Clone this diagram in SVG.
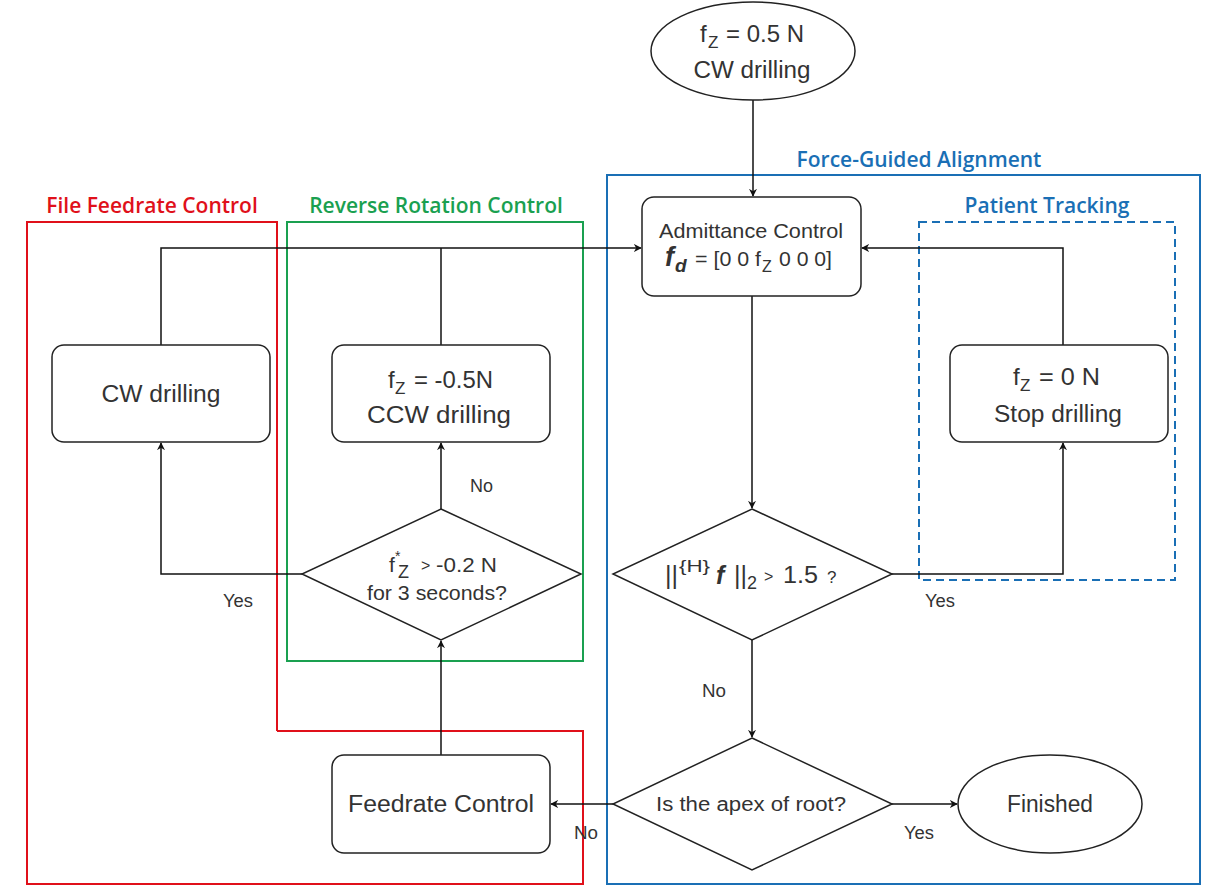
<svg xmlns="http://www.w3.org/2000/svg" width="1226" height="886" viewBox="0 0 1226 886">
<style>
.n{fill:#fff;stroke:#222;stroke-width:1.5}
.t{font-family:'Liberation Sans',Arial,sans-serif;fill:#333;text-anchor:middle}
.s{font-family:'Liberation Sans',Arial,sans-serif;fill:#333;text-anchor:start}
.c{fill:none;stroke:#111;stroke-width:1.5}
.lb{font-family:'Liberation Sans',Arial,sans-serif;fill:#333;font-size:18px;text-anchor:start}
.g{font-family:'Open Sans','Noto Sans',sans-serif;font-weight:600;font-size:21px;text-anchor:middle}
</style>
<defs>
<marker id="a" viewBox="0 0 10 10" refX="9" refY="5" markerWidth="8" markerHeight="8" markerUnits="userSpaceOnUse" orient="auto"><path d="M0,0 L10,5 L0,10 L3,5 z" fill="#111"/></marker>
</defs>
<rect width="1226" height="886" fill="#fff"/>
<g id="groups">
<rect x="607" y="175" width="593" height="709" fill="none" stroke="#1a6fb5" stroke-width="2"/>
<text class="g" x="919" y="167" fill="#1a6fb5">Force-Guided Alignment</text>
<polyline points="277,731 277,222 27,222 27,884 583,884 583,731 277,731" fill="none" stroke="#e0101a" stroke-width="2"/>
<text class="g" x="152" y="213" fill="#e0101a">File Feedrate Control</text>
<rect x="287" y="222" width="296" height="439" fill="none" stroke="#1aa050" stroke-width="2"/>
<text class="g" x="436" y="213" fill="#1aa050">Reverse Rotation Control</text>
<rect x="919" y="222" width="256" height="358" fill="none" stroke="#1a6fb5" stroke-width="2" stroke-dasharray="8,5"/>
<text class="g" x="1047" y="213" fill="#1a6fb5">Patient Tracking</text>
</g>
<g id="connectors">
<path class="c" d="M753,100 V196" marker-end="url(#a)"/>
<path class="c" d="M752,296 V508" marker-end="url(#a)"/>
<path class="c" d="M892,574 H1063 V443" marker-end="url(#a)"/>
<path class="c" d="M1063,345 V248 H862" marker-end="url(#a)"/>
<path class="c" d="M752,640 V737" marker-end="url(#a)"/>
<path class="c" d="M892,804 H957" marker-end="url(#a)"/>
<path class="c" d="M613,804 H551" marker-end="url(#a)"/>
<path class="c" d="M441,755 V641" marker-end="url(#a)"/>
<path class="c" d="M441,509 V443" marker-end="url(#a)"/>
<path class="c" d="M302,574 H161 V443" marker-end="url(#a)"/>
<path class="c" d="M161,345 V248 H641" marker-end="url(#a)"/>
<path class="c" d="M441,345 V248"/>
<text class="lb" x="925" y="607" textLength="30" lengthAdjust="spacingAndGlyphs">Yes</text>
<text class="lb" x="702" y="697" textLength="24" lengthAdjust="spacingAndGlyphs">No</text>
<text class="lb" x="904" y="839" textLength="30" lengthAdjust="spacingAndGlyphs">Yes</text>
<text class="lb" x="574" y="839" textLength="24" lengthAdjust="spacingAndGlyphs">No</text>
<text class="lb" x="470" y="492" textLength="23" lengthAdjust="spacingAndGlyphs">No</text>
<text class="lb" x="223" y="607" textLength="30" lengthAdjust="spacingAndGlyphs">Yes</text>
</g>
<g id="start">
<ellipse class="n" cx="753" cy="51" rx="102" ry="49"/>
<text class="s" font-size="24"><tspan x="700" y="42">f</tspan><tspan x="708" y="48" font-size="17">Z</tspan><tspan x="726" y="42" textLength="78" lengthAdjust="spacingAndGlyphs">= 0.5 N</tspan></text>
<text class="t" x="752" y="78" font-size="23" textLength="117" lengthAdjust="spacingAndGlyphs">CW drilling</text>
</g>
<g id="admittance">
<rect class="n" x="642" y="197" width="219" height="99" rx="12"/>
<text class="t" x="751" y="238" font-size="21" textLength="184" lengthAdjust="spacingAndGlyphs">Admittance Control</text>
<text class="s" font-size="21"><tspan x="665" y="266" font-weight="bold" font-style="italic" font-size="27">f</tspan><tspan x="675" y="272" font-weight="bold" font-style="italic" font-size="19">d</tspan><tspan x="695" y="266" textLength="66" lengthAdjust="spacingAndGlyphs">= [0 0 f</tspan><tspan x="762" y="272" font-size="16">Z</tspan><tspan x="779" y="266" textLength="53" lengthAdjust="spacingAndGlyphs">0 0 0]</tspan></text>
</g>
<g id="cw">
<rect class="n" x="52" y="345" width="218" height="97" rx="12"/>
<text class="t" x="161" y="402" font-size="23" textLength="119" lengthAdjust="spacingAndGlyphs">CW drilling</text>
</g>
<g id="ccw">
<rect class="n" x="332" y="345" width="218" height="97" rx="12"/>
<text class="s" font-size="24"><tspan x="388" y="388">f</tspan><tspan x="395" y="394" font-size="17">Z</tspan><tspan x="414" y="388" textLength="79" lengthAdjust="spacingAndGlyphs">= -0.5N</tspan></text>
<text class="t" x="439" y="423" font-size="23" textLength="144" lengthAdjust="spacingAndGlyphs">CCW drilling</text>
</g>
<g id="stop">
<rect class="n" x="950" y="345" width="218" height="97" rx="12"/>
<text class="s" font-size="24"><tspan x="1013" y="385">f</tspan><tspan x="1020" y="391" font-size="17">Z</tspan><tspan x="1039" y="385" textLength="61" lengthAdjust="spacingAndGlyphs">= 0 N</tspan></text>
<text class="t" x="1058" y="422" font-size="23" textLength="128" lengthAdjust="spacingAndGlyphs">Stop drilling</text>
</g>
<g id="dec-force">
<polygon class="n" points="752,509 892,574 752,640 613,574"/>
<text class="s" font-size="25"><tspan x="665" y="584">||</tspan><tspan x="679" y="572" font-size="17" textLength="31" lengthAdjust="spacingAndGlyphs">{H}</tspan><tspan x="716" y="584" font-weight="bold" font-style="italic">f</tspan><tspan x="734" y="584">||</tspan><tspan x="747" y="589" font-size="18">2</tspan><tspan x="764" y="582" font-size="16">&gt;</tspan><tspan x="783" y="583" font-size="23" textLength="35" lengthAdjust="spacingAndGlyphs">1.5</tspan><tspan x="827" y="583" font-size="17">?</tspan></text>
</g>
<g id="dec-reverse">
<polygon class="n" points="441,509 581,574 441,640 302,574"/>
<text class="s" font-size="21"><tspan x="389" y="572">f</tspan><tspan x="395" y="561" font-size="14">*</tspan><tspan x="398" y="578" font-size="18">Z</tspan><tspan x="421" y="571" font-size="16">&gt;</tspan><tspan x="436" y="572" textLength="61" lengthAdjust="spacingAndGlyphs">-0.2 N</tspan></text>
<text class="t" x="437" y="600" font-size="20" textLength="140" lengthAdjust="spacingAndGlyphs">for 3 seconds?</text>
</g>
<g id="dec-apex">
<polygon class="n" points="752,738 892,804 752,870 613,804"/>
<text class="t" x="751" y="811" font-size="20" textLength="190" lengthAdjust="spacingAndGlyphs">Is the apex of root?</text>
</g>
<g id="finished">
<ellipse class="n" cx="1050" cy="804" rx="92" ry="49"/>
<text class="t" x="1050" y="812" font-size="23" textLength="86" lengthAdjust="spacingAndGlyphs">Finished</text>
</g>
<g id="feedrate">
<rect class="n" x="332" y="755" width="218" height="98" rx="12"/>
<text class="t" x="441" y="812" font-size="23" textLength="186" lengthAdjust="spacingAndGlyphs">Feedrate Control</text>
</g>
</svg>
